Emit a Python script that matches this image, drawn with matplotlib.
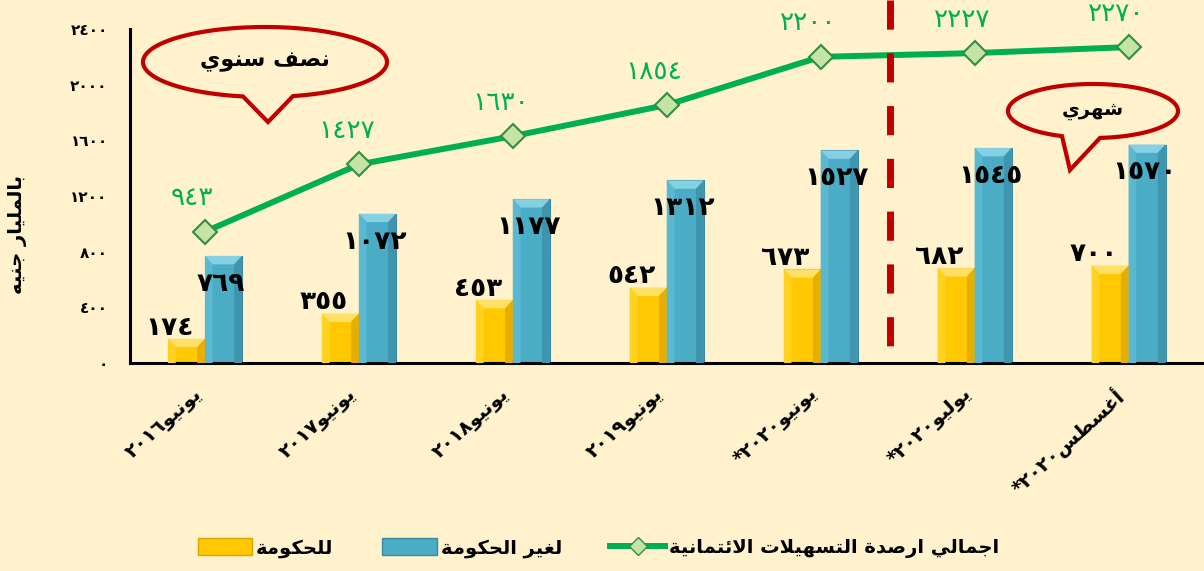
import re
import numpy as np
import matplotlib
matplotlib.use('Agg')
import matplotlib.pyplot as plt
from matplotlib.patches import Polygon, Patch
from matplotlib.lines import Line2D
from matplotlib.transforms import ScaledTranslation

# data (billion EGP)
months = ['يونيو', 'يونيو', 'يونيو', 'يونيو', 'يونيو', 'يوليو', 'أغسطس']
years = ['٢٠١٦', '٢٠١٧', '٢٠١٨', '٢٠١٩', '٢٠٢٠*', '٢٠٢٠*', '٢٠٢٠*']
gov = [174, 355, 453, 542, 673, 682, 700]
non_gov = [769, 1072, 1177, 1312, 1527, 1545, 1570]
total = [943, 1427, 1630, 1854, 2200, 2227, 2270]
yticks = [0, 400, 800, 1200, 1600, 2000, 2400]

BG = '#FFF2CC'
YELLOW = '#FFC800'
BLUE = '#4BACC6'
GREEN = '#00B050'
RED = '#C00000'

# minimal arabic shaping (matplotlib has no text shaping)
FORMS = {
    'ا': ('\uFE8D', '\uFE8E'), 'أ': ('\uFE83', '\uFE84'),
    'د': ('\uFEA9', '\uFEAA'), 'ر': ('\uFEAD', '\uFEAE'),
    'و': ('\uFEED', '\uFEEE'), 'ة': ('\uFE93', '\uFE94'),
    'لا': ('\uFEFB', '\uFEFC'), 'لأ': ('\uFEF7', '\uFEF8'),
    'ب': ('\uFE8F', '\uFE90', '\uFE91', '\uFE92'),
    'ت': ('\uFE95', '\uFE96', '\uFE97', '\uFE98'),
    'ج': ('\uFE9D', '\uFE9E', '\uFE9F', '\uFEA0'),
    'ح': ('\uFEA1', '\uFEA2', '\uFEA3', '\uFEA4'),
    'س': ('\uFEB1', '\uFEB2', '\uFEB3', '\uFEB4'),
    'ش': ('\uFEB5', '\uFEB6', '\uFEB7', '\uFEB8'),
    'ص': ('\uFEB9', '\uFEBA', '\uFEBB', '\uFEBC'),
    'ط': ('\uFEC1', '\uFEC2', '\uFEC3', '\uFEC4'),
    'غ': ('\uFECD', '\uFECE', '\uFECF', '\uFED0'),
    'ف': ('\uFED1', '\uFED2', '\uFED3', '\uFED4'),
    'ك': ('\uFED9', '\uFEDA', '\uFEDB', '\uFEDC'),
    'ل': ('\uFEDD', '\uFEDE', '\uFEDF', '\uFEE0'),
    'م': ('\uFEE1', '\uFEE2', '\uFEE3', '\uFEE4'),
    'ن': ('\uFEE5', '\uFEE6', '\uFEE7', '\uFEE8'),
    'ه': ('\uFEE9', '\uFEEA', '\uFEEB', '\uFEEC'),
    'ي': ('\uFEF1', '\uFEF2', '\uFEF3', '\uFEF4'),
    'ئ': ('\uFE89', '\uFE8A', '\uFE8B', '\uFE8C'),
}


def shape(text):
    units = []
    i = 0
    while i < len(text):
        if text[i] == 'ل' and i + 1 < len(text) and text[i + 1] in 'اأ':
            units.append(text[i:i + 2])
            i += 2
        else:
            units.append(text[i])
            i += 1
    out = []
    for k, u in enumerate(units):
        if u not in FORMS:
            out.append(u)
            continue
        f = FORMS[u]
        prev = units[k - 1] if k > 0 else None
        nxt = units[k + 1] if k + 1 < len(units) else None
        jp = prev in FORMS and len(FORMS[prev]) == 4
        jn = len(f) == 4 and nxt in FORMS
        if jp and jn:
            out.append(f[3])
        elif jp:
            out.append(f[1])
        elif jn:
            out.append(f[2])
        else:
            out.append(f[0])
    return ''.join(out)


def ar(text):
    s = shape(text)[::-1]
    return re.sub(r'[0-9\u0660-\u0669]+', lambda m: m.group(0)[::-1], s)


def ind(n):
    return str(n).translate(str.maketrans('0123456789', '٠١٢٣٤٥٦٧٨٩'))


plt.rcParams['font.family'] = ['DejaVu Sans']

fig = plt.figure(figsize=(12.04, 5.71), dpi=100, facecolor=BG)
ax = fig.add_axes([130 / 1204, 1 - 363 / 571, 1 - 130 / 1204, 334 / 571])
ax.set_facecolor(BG)

x = np.arange(len(gov))
w = 0.24
ax.bar(x - w / 2, gov, w, color=YELLOW, edgecolor='#D9A400', lw=0.8, zorder=2)
ax.bar(x + w / 2, non_gov, w, color=BLUE, edgecolor='#3A8BA1', lw=0.8, zorder=2)


def bevel(xc, h, light, side, dark):
    x0, x1 = xc - w / 2, xc + w / 2
    bx, by = 0.05, 60
    ax.add_patch(Polygon([(x0, h), (x1, h), (x1 - bx, h - by), (x0 + bx, h - by)],
                         color=light, lw=0, zorder=3))
    ax.add_patch(Polygon([(x0, h), (x0 + bx, h - by), (x0 + bx, 0), (x0, 0)],
                         color=side, lw=0, zorder=3))
    ax.add_patch(Polygon([(x1, h), (x1 - bx, h - by), (x1 - bx, 0), (x1, 0)],
                         color=dark, lw=0, zorder=3))


for i in x:
    bevel(i - w / 2, gov[i], '#FFE066', '#FFD21F', '#E6AE00')
    bevel(i + w / 2, non_gov[i], '#86D0E4', '#5BB8D1', '#3E95AD')

ax.plot(x, total, color=GREEN, lw=4.3, marker='D', ms=12, mfc='#C6E3A6',
        mec='#2F8F3F', mew=1.5, zorder=4)

# separator between half-yearly and monthly figures
split_x = 4.45
ax.plot([split_x, split_x], [2610, 115], color=RED, lw=5, dashes=(4.2, 3.4),
        clip_on=False, zorder=5)

for i in x:
    ax.annotate(ind(gov[i]), (i - w / 2, gov[i]), xytext=(-12, 8), textcoords='offset points',
                ha='center', va='center', fontsize=19, fontweight='bold', color='black', zorder=6)
    ax.annotate(ind(non_gov[i]), (i + w / 2, non_gov[i]), xytext=(-2, -20), textcoords='offset points',
                ha='center', va='center', fontsize=19, fontweight='bold', color='black', zorder=6)
    ax.annotate(ind(total[i]), (i, total[i]), xytext=(-9, 24), textcoords='offset points',
                ha='center', va='center', fontsize=19, color=GREEN, zorder=6)

ax.set_xlim(-0.487, 6.49)
ax.set_ylim(0, 2400)
ax.set_yticks(yticks)
ax.set_yticklabels([ind(v) for v in yticks], fontsize=11, fontweight='bold')
ax.set_xticks(x)
ax.set_xticklabels([ar(m + y) for m, y in zip(months, years)], rotation=42,
                   ha='right', va='top', fontsize=14, fontweight='bold')
for lbl in ax.get_xticklabels():
    lbl.set_transform(lbl.get_transform() + ScaledTranslation(14 / 100, 0, fig.dpi_scale_trans))
ax.tick_params(axis='y', length=0, pad=16)
ax.tick_params(axis='x', length=0, pad=15)
for s in ['top', 'right']:
    ax.spines[s].set_visible(False)
for s in ['left', 'bottom']:
    ax.spines[s].set_linewidth(2.2)
    ax.spines[s].set_color('black')

fig.text(18 / 1204, 1 - 235 / 571, ar('بالمليار جنيه'), rotation=90, ha='center', va='center',
         fontsize=14, fontweight='bold')


# speech bubbles (pixel coordinates measured from the top left)
def bubble(cx, cy, a, b, xl, xr, tip, text, fs):
    tl = np.arccos((xl - cx) / a)
    tr = np.arccos((xr - cx) / a)
    t = np.linspace(tr, tl - 2 * np.pi, 200)
    px = list(cx + a * np.cos(t)) + [tip[0]]
    py = list(cy + b * np.sin(t)) + [tip[1]]
    pts = [(u / 100, (571 - v) / 100) for u, v in zip(px, py)]
    fig.add_artist(Polygon(pts, closed=True, facecolor=BG, edgecolor=RED, lw=3,
                           transform=fig.dpi_scale_trans, zorder=7))
    fig.text(cx / 1204, 1 - cy / 571, ar(text), ha='center', va='center', fontsize=fs,
             fontweight='bold', zorder=8)


bubble(265, 62, 122, 35, 243, 293, (268, 122), 'نصف سنوي', 16)
bubble(1093, 111, 85, 27, 1062, 1100, (1070, 170), 'شهري', 14)

handles = [Patch(facecolor=YELLOW, edgecolor='#D9A400'),
           Patch(facecolor=BLUE, edgecolor='#3A8BA1'),
           Line2D([], [], color=GREEN, lw=4.3, marker='D', ms=9, mfc='#C6E3A6', mec='#2F8F3F')]
labels = [ar('للحكومة'), ar('لغير الحكومة'), ar('اجمالي ارصدة التسهيلات الائتمانية')]
fig.legend(handles, labels, loc='center', bbox_to_anchor=(0.497, 0.04), ncol=3, frameon=False,
           prop={'size': 14, 'weight': 'bold'}, handlelength=2.8, handleheight=0.9,
           handletextpad=0.2, columnspacing=2.5)

fig.savefig('out.png', dpi=100, facecolor=BG)
